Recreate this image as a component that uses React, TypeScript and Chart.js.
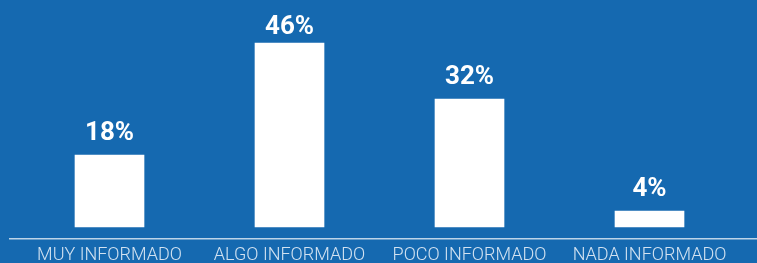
import React, { useEffect, useRef } from "react";
import { Chart, registerables } from "chart.js";

Chart.register(...registerables);

const categories = ["MUY INFORMADO", "ALGO INFORMADO", "POCO INFORMADO", "NADA INFORMADO"];
const values = [18, 46, 32, 4];
const valueLabels = ["18%", "46%", "32%", "4%"];

const BG = "#1569B0";

const bgPlugin = {
  id: "bg",
  beforeDraw(chart: any) {
    const { ctx, width, height } = chart;
    ctx.save();
    ctx.fillStyle = BG;
    ctx.fillRect(0, 0, width, height);
    ctx.restore();
  },
};

const valuePlugin = {
  id: "valueLabels",
  afterDatasetsDraw(chart: any) {
    const { ctx } = chart;
    const meta = chart.getDatasetMeta(0);
    ctx.save();
    ctx.fillStyle = "#ffffff";
    ctx.font = "bold 26px Roboto";
    ctx.textAlign = "center";
    ctx.textBaseline = "alphabetic";
    meta.data.forEach((bar: any, i: number) => {
      const y = Math.max(bar.y - 15, 33.5);
      ctx.fillText(valueLabels[i], bar.x, y);
    });
    ctx.restore();
  },
};

export default function App() {
  const ref = useRef<HTMLCanvasElement>(null);
  useEffect(() => {
    if (!ref.current) return;
    const chart = new Chart(ref.current, {
      type: "bar",
      data: {
        datasets: [
          {
            data: values.map((v, i) => ({ x: i, y: v })),
            backgroundColor: "#ffffff",
            borderWidth: 0,
            barThickness: 69,
          },
        ],
      },
      options: {
        responsive: false,
        animation: false,
        devicePixelRatio: 1,
        layout: { padding: { left: 10, right: 0, top: 27, bottom: 0 } },
        plugins: { legend: { display: false }, tooltip: { enabled: false } },
        scales: {
          x: {
            type: "linear",
            min: -0.5528,
            max: 3.5972,
            offset: false,
            grid: { display: false, drawTicks: false, offset: false },
            border: { display: true, color: "rgba(255,255,255,0.72)", width: 1.5 },
            afterFit: (scale: any) => {
              scale.height = 24;
            },
            ticks: {
              stepSize: 1,
              includeBounds: false,
              autoSkip: false,
              maxRotation: 0,
              minRotation: 0,
              padding: 7.5,
              color: "#d2e2f1",
              font: { family: "Roboto", size: 18, weight: "300", lineHeight: 1 },
              callback: (v: any) => (Number.isInteger(v) && categories[v] ? categories[v] : ""),
            },
          },
          y: {
            display: false,
            min: -3,
            max: 50,
          },
        },
      } as any,
      plugins: [bgPlugin, valuePlugin],
    });
    return () => chart.destroy();
  }, []);
  return (
    <div style={{ position: "absolute", left: 0, top: 0, width: 757, height: 263, background: BG }}>
      <canvas ref={ref} width={757} height={263} style={{ display: "block", width: 757, height: 263 }} />
    </div>
  );
}
